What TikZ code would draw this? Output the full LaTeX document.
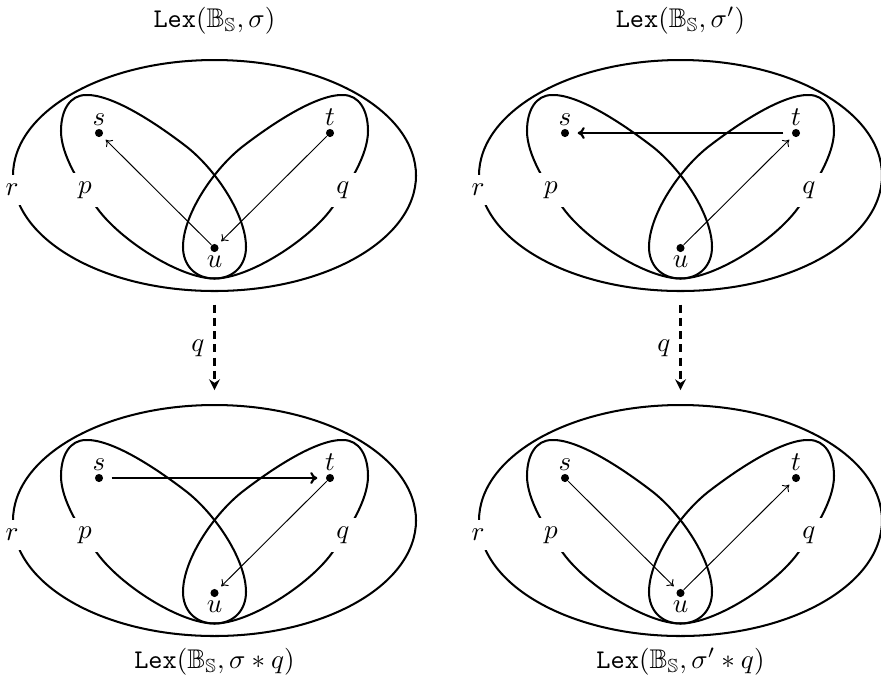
\documentclass[tikz,border=0pt]{standalone}
\usepackage{amssymb}
\usetikzlibrary{arrows.meta}
\tikzset{
  curve/.style={line width=0.75pt},
  lab/.style={fill=white, inner sep=3.3pt},
  dot/.style={circle, fill=black, inner sep=0pt, minimum size=3pt},
  txt/.style={inner sep=0pt, anchor=base},
  thinarrow/.style={line width=0.35pt, -{To[length=2.2pt,width=3.6pt]}, shorten >=1.8pt},
  thickarrow/.style={line width=0.8pt, -{To[length=2.6pt,width=4.4pt]}, shorten >=3pt, shorten <=3pt},
  dasharrow/.style={line width=0.85pt, dash pattern=on 3pt off 1.9pt, -{Stealth[length=4pt,width=4pt,inset=1.3pt]}, shorten <=5pt, shorten >=5.5pt},
  title/.style={inner sep=0pt}
}
\newcommand{\mypanel}[1]{%
  \draw[curve] (214.5,175.5) ellipse [x radius=201.5, y radius=115.5];
  % petal p
  \draw[curve] (214.5,278.5) .. controls (234,278.5) and (246,265) .. (246,247)
    .. controls (246,215) and (216,170) .. (187,147)
    .. controls (165,130) and (115,94) .. (86,95)
    .. controls (70,95) and (61,110) .. (61,131)
    .. controls (61,155) and (80,185) .. (97,208)
    .. controls (120,240) and (180,278.5) .. cycle;
  % petal q
  \draw[curve] (214.5,278.5) .. controls (195,278.5) and (183,265) .. (183,247)
    .. controls (183,215) and (213,170) .. (242,147)
    .. controls (264,130) and (314,94) .. (343,95)
    .. controls (359,95) and (368,110) .. (368,131)
    .. controls (368,155) and (349,185) .. (332,208)
    .. controls (309,240) and (249,278.5) .. cycle;
  \node[lab] (#1r) at (12,190) {$r$};
  \node[lab] (#1p) at (85,190) {$p$};
  \node[lab] (#1q) at (343,190) {$q$};
  \node[dot] (#1s) at (99,133) {};
  \node[dot] (#1t) at (330,133) {};
  \node[dot] (#1u) at (214.5,248) {};
  \node[txt] (#1sl) at (99,125) {$s$};
  \node[txt] (#1tl) at (330,125) {$t$};
  \node[txt] (#1ul) at (214.5,267.5) {$u$};
  \coordinate (#1top) at (214.5,60);
  \coordinate (#1bot) at (214.5,291);
}
\begin{document}
\begin{tikzpicture}[x=0.37pt,y=-0.37pt]
  \useasboundingbox (0,0) rectangle (881,681);
  \begin{scope}
    \mypanel{tl-}
  \end{scope}
  \begin{scope}[shift={(466,0)}]
    \mypanel{tr-}
  \end{scope}
  \begin{scope}[shift={(0,345)}]
    \mypanel{bl-}
  \end{scope}
  \begin{scope}[shift={(466,345)}]
    \mypanel{br-}
  \end{scope}
  % titles
  \node[title] (t1) at (214.5,21) {$\mathtt{Lex}(\mathbb{B}_{\mathbb{S}},\sigma)$};
  \node[title] (t2) at (680.5,21) {$\mathtt{Lex}(\mathbb{B}_{\mathbb{S}},\sigma')$};
  \node[title] (t3) at (214.5,662) {$\mathtt{Lex}(\mathbb{B}_{\mathbb{S}},\sigma*q)$};
  \node[title] (t4) at (680.5,662) {$\mathtt{Lex}(\mathbb{B}_{\mathbb{S}},\sigma'*q)$};
  % arrows
  \draw[thinarrow] (tl-u) -- (tl-s);
  \draw[thinarrow] (tl-t) -- (tl-u);
  \draw[thickarrow] (tr-t) -- (tr-s);
  \draw[thinarrow] (tr-u) -- (tr-t);
  \draw[thickarrow] (bl-s) -- (bl-t);
  \draw[thinarrow] (bl-t) -- (bl-u);
  \draw[thinarrow] (br-s) -- (br-u);
  \draw[thinarrow] (br-u) -- (br-t);
  % dashed
  \draw[dasharrow] (tl-bot) -- node[midway,left] {$q$} (bl-top);
  \draw[dasharrow] (tr-bot) -- node[midway,left] {$q$} (br-top);
\end{tikzpicture}
\end{document}
